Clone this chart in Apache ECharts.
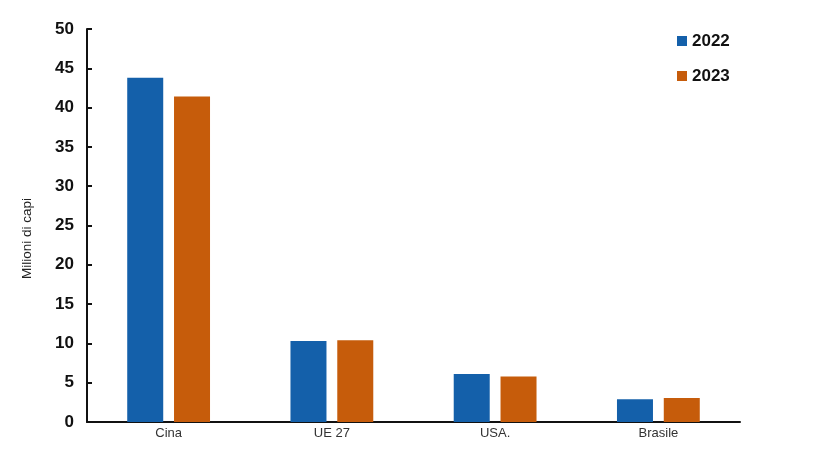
<!DOCTYPE html>
<html>
<head>
<meta charset="utf-8">
<script src="https://cdn.jsdelivr.net/npm/echarts@6/dist/echarts.min.js"></script>
<style>html,body{margin:0;padding:0;background:#fff}#c{width:820px;height:465px}</style>
</head>
<body>
<div id="c"></div>
<script>
const categories = ['Cina', 'UE 27', 'USA.', 'Brasile'];
const seriesNames = ['2022', '2023'];
const values2022 = [43.8, 10.3, 6.1, 2.9];
const values2023 = [41.4, 10.4, 5.8, 3.05];
const yTicks = [0, 5, 10, 15, 20, 25, 30, 35, 40, 45, 50];
const yAxisTitle = 'Milioni di capi';

const chart = echarts.init(document.getElementById('c'));
const boldFont = "'Liberation Sans', Arial, sans-serif";
chart.setOption({
  animation: false,
  grid: { left: 87, right: 80, top: 29, bottom: 43 },
  legend: {
    orient: 'vertical',
    left: 672, top: 27,
    itemWidth: 10, itemHeight: 10, itemGap: 17,
    icon: 'rect',
    textStyle: { fontFamily: boldFont, fontWeight: 'bold', fontSize: 17, color: '#111', lineHeight: 18 },
    data: seriesNames
  },
  graphic: [{
    type: 'text', left: 20, top: 198, rotation: Math.PI / 2,
    style: { text: yAxisTitle, fontFamily: 'Liberation Sans, Arial, sans-serif', fontSize: 13.5, fill: '#222' }
  }],
  xAxis: {
    type: 'category',
    data: categories,
    axisLine: { lineStyle: { color: '#111', width: 2 } },
    axisTick: { inside: true, length: 5, lineStyle: { color: '#111', width: 2 } },
    axisLabel: { fontFamily: 'Liberation Sans, Arial, sans-serif', fontSize: 13, color: '#333', margin: 5 }
  },
  yAxis: {
    type: 'value',
    min: yTicks[0], max: yTicks[yTicks.length - 1], interval: 5,
    axisLine: { show: true, lineStyle: { color: '#111', width: 2 } },
    axisTick: { show: true, inside: true, length: 5, lineStyle: { color: '#111', width: 2 } },
    splitLine: { show: false },
    axisLabel: { fontFamily: boldFont, fontWeight: 'bold', fontSize: 17, color: '#111', margin: 13 }
  },
  series: [
    { name: seriesNames[0], type: 'bar', data: values2022, barWidth: 36, barGap: '30%',
      itemStyle: { color: '#1460aa' } },
    { name: seriesNames[1], type: 'bar', data: values2023, barWidth: 36,
      itemStyle: { color: '#c65c0b' } }
  ]
});
</script>
</body>
</html>
